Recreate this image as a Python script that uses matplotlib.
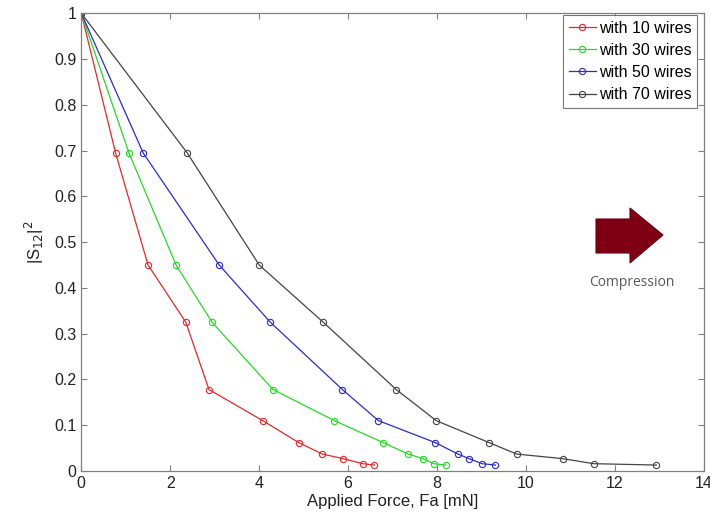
import matplotlib
matplotlib.use("Agg")
import matplotlib.pyplot as plt
from matplotlib.patches import Polygon

plt.rcParams['font.family'] = ['Liberation Sans', 'DejaVu Sans']

# |S12|^2 levels shared by all curves
s12 = [1.0, 0.695, 0.45, 0.325, 0.178, 0.11, 0.062, 0.037, 0.027, 0.016, 0.013]

# applied force for each wire count
force_10 = [0, 0.77, 1.5, 2.35, 2.87, 4.08, 4.89, 5.42, 5.89, 6.33, 6.59]
force_30 = [0, 1.07, 2.13, 2.94, 4.31, 5.69, 6.79, 7.35, 7.68, 7.92, 8.19]
force_50 = [0, 1.39, 3.1, 4.25, 5.87, 6.68, 7.96, 8.47, 8.72, 9.01, 9.31]
force_70 = [0, 2.38, 4.0, 5.44, 7.08, 7.98, 9.17, 9.79, 10.82, 11.52, 12.93]

labels = ["with 10 wires", "with 30 wires", "with 50 wires", "with 70 wires"]
colors = ["#e8262a", "#22dd22", "#2a2ad8", "#444444"]

fig = plt.figure(figsize=(7.1, 5.22), dpi=100, facecolor="white")
ax = fig.add_axes([0.1145, 0.0977, 0.877, 0.877])

for f, lab, c in zip([force_10, force_30, force_50, force_70], labels, colors):
    ax.plot(f, s12, color=c, lw=0.9, marker='o', ms=4.5, mfc='none', mew=0.8, label=lab)

ax.set_xlim(0, 14)
ax.set_ylim(0, 1)
ax.set_xticks(range(0, 15, 2))
ax.set_yticks([i / 10 for i in range(11)])
ax.set_yticklabels(["0"] + ["0.%d" % i for i in range(1, 10)] + ["1"])
ax.tick_params(direction='in', top=True, right=True, labelsize=11.5,
               colors='#808080', labelcolor='#222222', length=4)
for s in ax.spines.values():
    s.set_color('#808080')
    s.set_linewidth(0.9)

ax.set_xlabel("Applied Force, Fa [mN]", fontsize=12, color='#222222', labelpad=2)
ax.set_ylabel("|S$_{12}$|$^2$", fontsize=12, color='#222222', labelpad=6)

leg = ax.legend(loc='upper right', bbox_to_anchor=(0.989, 0.996), fontsize=11.5,
                frameon=True, fancybox=False, handlelength=1.7, handletextpad=0.2,
                borderpad=0.35, labelspacing=0.45, borderaxespad=0)
leg.get_frame().set_edgecolor('#555555')
leg.get_frame().set_linewidth(0.8)

# compression arrow
W, H = 710.0, 522.0
pts = [(596, 219), (630, 219), (630, 208), (663, 235), (630, 263), (630, 253), (596, 253)]
arrow = Polygon([(x / W, 1 - y / H) for x, y in pts], closed=True,
                transform=fig.transFigure, facecolor='#7f0014', edgecolor='#6a0010', lw=0.8)
fig.patches.append(arrow)
fig.text(632 / W, 1 - 282 / H, "Compression", ha='center', va='center',
         fontsize=10, color='#595959', family=['Open Sans', 'DejaVu Sans'])

fig.savefig("out.png", dpi=100)
